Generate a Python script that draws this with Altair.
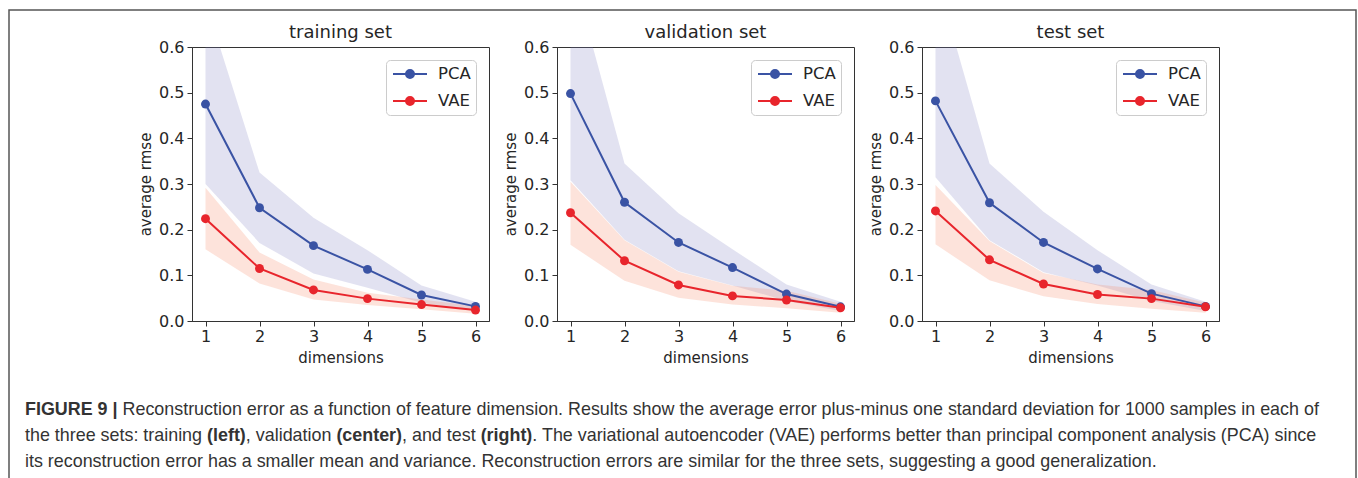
import altair as alt
import pandas as pd

# ---------------- data ----------------
dims = [1, 2, 3, 4, 5, 6]
methods = ["PCA", "VAE"]
panel_titles = ["training set", "validation set", "test set"]

train_pca_mean = [0.475, 0.248, 0.165, 0.113, 0.057, 0.032]
train_pca_lo = [0.300, 0.171, 0.104, 0.073, 0.040, 0.022]
train_pca_hi = [0.700, 0.325, 0.226, 0.155, 0.078, 0.042]
train_vae_mean = [0.224, 0.115, 0.068, 0.049, 0.036, 0.024]
train_vae_lo = [0.157, 0.082, 0.047, 0.035, 0.026, 0.016]
train_vae_hi = [0.292, 0.150, 0.091, 0.062, 0.047, 0.033]

val_pca_mean = [0.498, 0.260, 0.172, 0.117, 0.059, 0.031]
val_pca_lo = [0.308, 0.178, 0.109, 0.078, 0.044, 0.022]
val_pca_hi = [0.780, 0.345, 0.236, 0.157, 0.080, 0.042]
val_vae_mean = [0.237, 0.132, 0.079, 0.055, 0.046, 0.029]
val_vae_lo = [0.167, 0.088, 0.051, 0.036, 0.028, 0.018]
val_vae_hi = [0.305, 0.177, 0.108, 0.077, 0.066, 0.038]

test_pca_mean = [0.482, 0.259, 0.172, 0.114, 0.060, 0.032]
test_pca_lo = [0.315, 0.177, 0.107, 0.078, 0.044, 0.022]
test_pca_hi = [0.760, 0.345, 0.239, 0.155, 0.080, 0.042]
test_vae_mean = [0.241, 0.134, 0.081, 0.058, 0.049, 0.031]
test_vae_lo = [0.168, 0.089, 0.054, 0.037, 0.027, 0.018]
test_vae_hi = [0.298, 0.175, 0.105, 0.080, 0.068, 0.040]

series = {
    "training set": {
        "PCA": (train_pca_mean, train_pca_lo, train_pca_hi),
        "VAE": (train_vae_mean, train_vae_lo, train_vae_hi),
    },
    "validation set": {
        "PCA": (val_pca_mean, val_pca_lo, val_pca_hi),
        "VAE": (val_vae_mean, val_vae_lo, val_vae_hi),
    },
    "test set": {
        "PCA": (test_pca_mean, test_pca_lo, test_pca_hi),
        "VAE": (test_vae_mean, test_vae_lo, test_vae_hi),
    },
}

caption_lines = [
    [("FIGURE 9 |", True),
     (" Reconstruction error as a function of feature dimension. Results show the average error plus-minus one standard deviation for 1000 samples in each of", False)],
    [("the three sets: training ", False), ("(left)", True), (", validation ", False),
     ("(center)", True), (", and test ", False), ("(right)", True),
     (". The variational autoencoder (VAE) performs better than principal component analysis (PCA) since", False)],
    [("its reconstruction error has a smaller mean and variance. Reconstruction errors are similar for the three sets, suggesting a good generalization.", False)],
]

# ---------------- style ----------------
LINE_COLORS = ["#3a53a4", "#e8252c"]
BAND_COLORS = ["#7b7bbf", "#f7906f"]
BAND_OPACITY = [0.22, 0.25]
AX = "#333333"
TXT = "#262626"
FONT = "DejaVu Sans"
CAP_FONT = "Liberation Sans"
CAP_COLOR = "#333333"

PW, PH = 297, 274
GAP = 68

# Helvetica/Arial (Liberation Sans) advance widths, 1/1000 em
REG = {' ': 278, '(': 333, ')': 333, ',': 278, '-': 333, '.': 278, ':': 278, '|': 260,
       '0': 556, '1': 556, '9': 556,
       'A': 667, 'C': 722, 'E': 667, 'F': 611, 'G': 778, 'I': 278, 'P': 667, 'R': 722,
       'T': 611, 'U': 722, 'V': 667,
       'a': 556, 'b': 556, 'c': 500, 'd': 556, 'e': 556, 'f': 278, 'g': 556, 'h': 556,
       'i': 222, 'j': 222, 'k': 500, 'l': 222, 'm': 833, 'n': 556, 'o': 556, 'p': 556,
       'q': 556, 'r': 333, 's': 500, 't': 278, 'u': 556, 'v': 500, 'w': 722, 'x': 500,
       'y': 500, 'z': 500}
BOLD = {' ': 278, '(': 333, ')': 333, '|': 280, '9': 556, 'F': 611, 'I': 278, 'G': 778,
        'U': 722, 'R': 722, 'E': 667, 'c': 556, 'e': 556, 'f': 333, 'g': 611, 'h': 611,
        'i': 278, 'l': 278, 'n': 611, 'r': 389, 't': 333}


def text_units(s, bold):
    table = BOLD if bold else REG
    return sum(table.get(ch, 556) for ch in s)


CAP_SIZE = 17.9
# caption / frame / title positions relative to the first panel's plot origin
CAP_X0 = -167
CAP_Y = [363, 389, 415]
FRAME = (-183, -37, 1164, 444)
TITLE_Y = -14


def circle(r):
    return f"M{-r},0A{r},{r} 0 1,1 {r},0A{r},{r} 0 1,1 {-r},0Z"


SYMBOL = "M-2.125,0H2.125" + "".join(circle(r) for r in (0.125, 0.3125, 0.5))

# ---------------- long table ----------------
rows = []
for ttl in panel_titles:
    for m in methods:
        mean, lo, hi = series[ttl][m]
        for d, a, b, c in zip(dims, mean, lo, hi):
            rows.append({"set": ttl, "method": m, "dim": d, "mean": a, "lo": b, "hi": c})
df = pd.DataFrame(rows)

one = pd.DataFrame({"k": [0]})

xenc = alt.X("dim:Q", scale=alt.Scale(domain=[0.75, 6.25], nice=False, zero=False),
             axis=alt.Axis(values=dims, format="d", title="dimensions"))
yscale = alt.Scale(domain=[0, 0.6], nice=False)
yaxis = alt.Axis(values=[0, 0.1, 0.2, 0.3, 0.4, 0.5, 0.6], format=".1f", title="average rmse")

legend = alt.Legend(
    title=None, orient="top-right", offset=13, fillColor="white", strokeColor="#cccccc",
    cornerRadius=4, padding=5, labelFont=FONT, labelFontSize=16.5, labelColor=TXT,
    symbolType=SYMBOL, symbolSize=256, symbolStrokeWidth=2, symbolOffset=10,
    labelOffset=19, rowPadding=9,
)


def caption_layers():
    layers = [
        alt.Chart(one).mark_rect(fill="transparent", stroke="#555555", strokeWidth=1.5)
        .encode(x=alt.value(FRAME[0]), y=alt.value(FRAME[1]),
                x2=alt.value(FRAME[2]), y2=alt.value(FRAME[3]))
    ]
    for i, line in enumerate(caption_lines):
        x = CAP_X0
        for seg, bold in line:
            body = seg.strip()
            lead = seg[: len(seg) - len(seg.lstrip())]
            x_draw = x + text_units(lead, bold) * CAP_SIZE / 1000.0
            layers.append(
                alt.Chart(one).mark_text(
                    align="left", baseline="middle", font=CAP_FONT, fontSize=CAP_SIZE,
                    fontWeight="bold" if bold else "normal", color=CAP_COLOR,
                ).encode(x=alt.value(round(x_draw, 2)), y=alt.value(CAP_Y[i]),
                         text=alt.value(body))
            )
            x += text_units(seg, bold) * CAP_SIZE / 1000.0
    return layers


def panel(ttl, extra=()):
    base = alt.Chart(df).transform_filter(alt.datum.set == ttl)
    bands = []
    for m, c, op in zip(methods, BAND_COLORS, BAND_OPACITY):
        bands.append(
            base.transform_filter(alt.datum.method == m)
            .mark_area(clip=True, color=c, opacity=op)
            .encode(x=xenc, y=alt.Y("lo:Q", scale=yscale, axis=yaxis), y2="hi:Q")
        )
    lines = base.mark_line(strokeWidth=2, clip=True).encode(
        x=xenc,
        y=alt.Y("mean:Q", scale=yscale, axis=yaxis),
        color=alt.Color("method:N", scale=alt.Scale(domain=methods, range=LINE_COLORS),
                        legend=legend),
    )
    pts = base.mark_point(filled=True, size=80, opacity=1).encode(
        x=xenc,
        y=alt.Y("mean:Q", scale=yscale, axis=yaxis),
        fill=alt.Fill("method:N", scale=alt.Scale(domain=methods, range=LINE_COLORS),
                      legend=None),
    )
    title = alt.Chart(one).mark_text(
        align="center", baseline="middle", font=FONT, fontSize=18, color=TXT
    ).encode(x=alt.value(PW / 2), y=alt.value(TITLE_Y), text=alt.value(ttl))
    return alt.layer(*bands, lines, pts, title, *extra).properties(width=PW, height=PH)


panels = [panel(panel_titles[0], caption_layers())] + [panel(t) for t in panel_titles[1:]]

chart = alt.hconcat(*panels, spacing=GAP, bounds="flush").resolve_legend(
    color="independent"
).properties(
    padding={"left": 7, "top": 8, "right": 0, "bottom": 0},
    background="white",
).configure_view(stroke=AX, strokeWidth=1).configure_axis(
    domainColor=AX, tickColor=AX, tickSize=5, labelFont=FONT, labelFontSize=16,
    labelColor=TXT, titleFont=FONT, titleFontSize=15, titleFontWeight="normal",
    titleColor=TXT, grid=False,
).configure_axisX(labelPadding=2, titlePadding=6).configure_axisY(
    labelPadding=3, titlePadding=5
)

chart.save("out.html", embed_options={"renderer": "svg", "actions": False})
